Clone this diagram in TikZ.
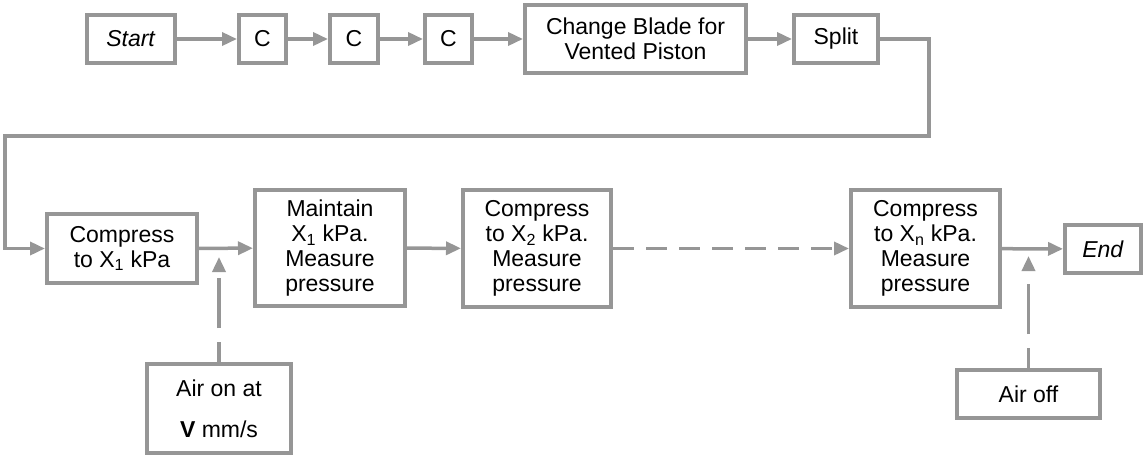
\documentclass[tikz,border=0pt]{standalone}
\usepackage{fontspec}
\setmainfont{Liberation Sans}
\usetikzlibrary{arrows.meta}
\definecolor{linegray}{RGB}{150,150,150}

\begin{document}
\begin{tikzpicture}[
    x=1pt, y=-1pt,
    box/.style={
        draw=linegray, line width=4pt, fill=white,
        align=center, inner sep=0pt,
        font=\fontsize{23}{25}\selectfont
    },
    arrowstyle/.style={-{Triangle[length=15pt,width=13pt]}, color=linegray, line width=3.5pt},
    dashline/.style={arrowstyle, dash pattern=on 21pt off 12pt},
    airline/.style={arrowstyle, dash pattern=on 20pt off 14pt on 50pt off 20pt}
]
\useasboundingbox (0,0) rectangle (1145,458);

% Fila superior
\node[box, minimum width=88pt, minimum height=48pt] (start) at (131,39) {\textit{Start}};
\node[box, minimum width=47pt, minimum height=48pt] (c1) at (262.5,39) {C};
\node[box, minimum width=48pt, minimum height=48pt] (c2) at (354,39) {C};
\node[box, minimum width=47pt, minimum height=48pt] (c3) at (448.5,39) {C};
\node[box, minimum width=221pt, minimum height=68pt] (blade) at (635.5,39) {Change Blade for\\Vented Piston};
\node[box, minimum width=84pt, minimum height=48pt] (split) at (836,39) {Split};

% Fila inferior
\node[box, minimum width=150pt, minimum height=69pt] (comp1) at (122,248.5) {Compress\\to X\textsubscript{1} kPa};
\node[box, minimum width=150pt, minimum height=116pt] (maint) at (330,248) {Maintain\\X\textsubscript{1} kPa.\\Measure\\pressure};
\node[box, minimum width=148pt, minimum height=117pt] (comp2) at (537,248.5) {Compress\\to X\textsubscript{2} kPa.\\Measure\\pressure};
\node[box, minimum width=149pt, minimum height=117pt] (compn) at (925.5,248.5) {Compress\\to X\textsubscript{n} kPa.\\Measure\\pressure};
\node[box, minimum width=76pt, minimum height=48pt] (endn) at (1103,249) {\textit{End}};

% Cajas de aire
\node[box, minimum width=144pt, minimum height=89pt] (airon) at (219,408.5) {Air on at\\[16pt]\textbf{V} mm/s};
\node[box, minimum width=143pt, minimum height=48pt] (airoff) at (1028.5,394) {Air off};

% Flechas fila superior
\draw[arrowstyle] (start) -- (c1);
\draw[arrowstyle] (c1) -- (c2);
\draw[arrowstyle] (c2) -- (c3);
\draw[arrowstyle] (c3) -- (blade);
\draw[arrowstyle] (blade) -- (split);

% Vuelta hacia la fila inferior
\coordinate (turnR) at (929,136);
\coordinate (turnL) at (5,136);
\draw[arrowstyle] (split.east) -| (turnR) -- (turnL) |- (comp1.west);

% Flechas fila inferior
\draw[arrowstyle] (comp1) -- (maint);
\draw[arrowstyle] (maint) -- (comp2);
\draw[dashline] (comp2) -- (compn);
\draw[arrowstyle] (compn) -- (endn);

% Aire (lineas discontinuas)
\coordinate (ontip) at (219,257);
\coordinate (offtip) at (1028.5,256);
\draw[airline] (airon) -- (ontip);
\draw[airline] (airoff) -- (offtip);

\end{tikzpicture}
\end{document}
